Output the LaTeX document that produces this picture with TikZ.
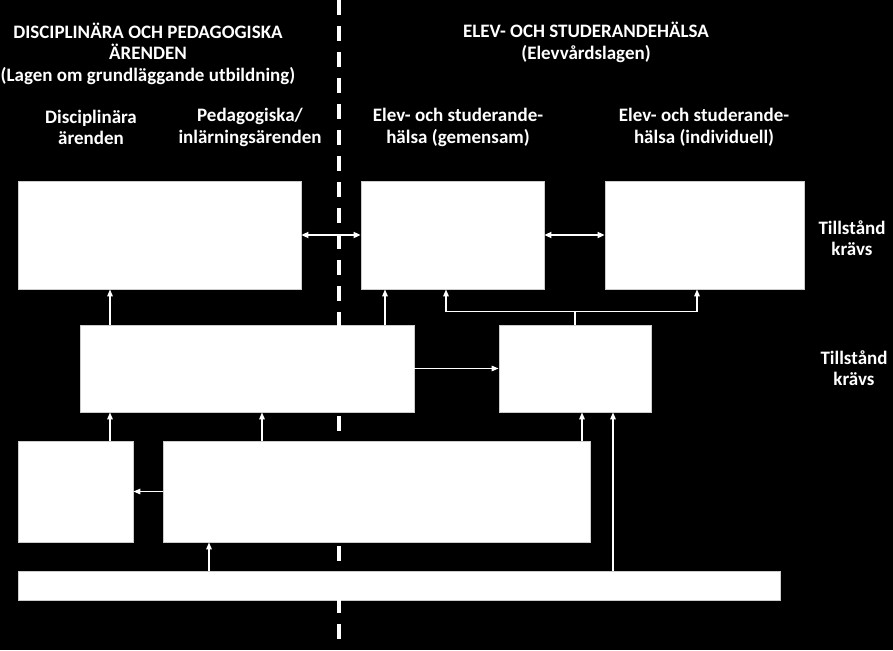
\documentclass[tikz,border=0pt]{standalone}
\usepackage{fontspec}
\setmainfont{Carlito}
\usetikzlibrary{arrows.meta}
\begin{document}
\begin{tikzpicture}[x=1pt,y=-1pt,
    box/.style={draw=black!20,fill=white,line width=0.8pt,inner sep=0pt},
    lbl/.style={text=white,font=\bfseries\fontsize{19}{21.5}\selectfont,align=center,inner sep=0pt},
    arr/.style={draw=white,line width=1.4pt,-{Triangle[length=7pt,width=5.5pt]}},
    dbl/.style={draw=white,line width=1.8pt,{Triangle[length=7pt,width=6pt]}-{Triangle[length=7pt,width=6pt]}}]
    \fill[black] (0,0) rectangle (893,650);
    \useasboundingbox (0,0) rectangle (893,650);
    % headings
    \node [lbl] (headL) at (148,53.5) {DISCIPLINÄRA OCH PEDAGOGISKA\\ÄRENDEN\\(Lagen om grundläggande utbildning)};
    \node [lbl] (headR) at (586,42.5) {ELEV- OCH STUDERANDEHÄLSA\\(Elevvårdslagen)};
    \node [lbl] (colA) at (91,127.5) {Disciplinära\\ärenden};
    \node [lbl] (colB) at (250,127.5) {Pedagogiska/\\inlärningsärenden};
    \node [lbl] (colC) at (458,127.5) {Elev- och studerande-\\hälsa (gemensam)};
    \node [lbl] (colD) at (704,127.5) {Elev- och studerande-\\hälsa (individuell)};
    \node [lbl] (permTop) at (852,238) {Tillstånd\\krävs};
    \node [lbl] (permMid) at (854,368) {Tillstånd\\krävs};
    % boxes
    \node [box, minimum width=283, minimum height=108] (boxA) at (159.5,235) {};
    \node [box, minimum width=183, minimum height=108] (boxB) at (452.5,235) {};
    \node [box, minimum width=199, minimum height=108] (boxC) at (704.5,235) {};
    \node [box, minimum width=334, minimum height=87] (boxD) at (247,368.5) {};
    \node [box, minimum width=152, minimum height=87] (boxE) at (575,368.5) {};
    \node [box, minimum width=115, minimum height=101] (boxF) at (75.5,491.5) {};
    \node [box, minimum width=427, minimum height=101] (boxG) at (376.5,491.5) {};
    \node [box, minimum width=762, minimum height=29] (boxH) at (399,585.5) {};
    % connectors
    \draw [dbl] (boxA.east) -- (boxB.west);
    \draw [dbl] (boxB.east) -- (boxC.west);
    \draw [arr] (boxD.north -| 110,0) -- (boxA.south -| 110,0);
    \draw [arr] (boxD.north -| 385,0) -- (boxB.south -| 385,0);
    \coordinate (split) at (575,311.5);
    \draw [draw=white,line width=1.4pt] (boxE.north) -- (split);
    \draw [arr] (split) -| (boxB.south -| 446,0);
    \draw [arr] (split) -| (boxC.south -| 697,0);
    \draw [arr] (boxD.east) -- (boxE.west);
    \draw [arr] (boxF.north -| 110,0) -- (boxD.south -| 110,0);
    \draw [arr] (boxG.north -| 262,0) -- (boxD.south -| 262,0);
    \draw [arr] (boxG.north -| 582,0) -- (boxE.south -| 582,0);
    \draw [arr] (boxH.north -| 613,0) -- (boxE.south -| 613,0);
    \draw [arr] (boxG.west) -- (boxF.east);
    \draw [arr] (boxH.north -| 209,0) -- (boxG.south -| 209,0);
    % divider
    \draw [white, line width=4pt, dash pattern=on 15 off 11] (339,0) -- (339,650);
\end{tikzpicture}
\end{document}
